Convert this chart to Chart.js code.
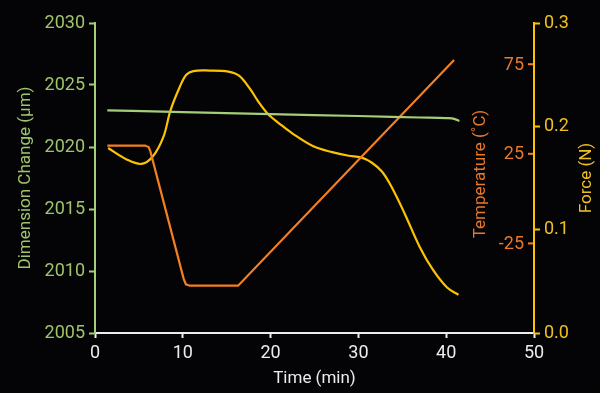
<!DOCTYPE html>
<html>
<head>
<meta charset="utf-8">
<script src="https://cdn.jsdelivr.net/npm/chart.js@4"></script>
<style>
  html, body { margin: 0; padding: 0; background: #040407; }
  canvas { display: block; }
</style>
</head>
<body>
<canvas id="chart" width="600" height="393"></canvas>
<script>
// --- data ---
const dimTime   = [1.4, 10, 20, 30, 37, 40, 41, 41.5];
const dimValues = [2022.95, 2022.82, 2022.65, 2022.5, 2022.38, 2022.33, 2022.25, 2022.1];

const tempTime   = [1.4, 5.7, 6.1, 6.3, 10.1, 10.35, 10.8, 16.3, 40.9];
const tempValues = [29.6, 29.6, 28.8, 26.5, -44.8, -47.8, -48.6, -48.6, 77.4];

const forceTime   = [1.5, 3.6, 5.3, 6.6, 7.8, 8.6, 9.7, 10.4, 11.2, 13, 15.2, 16.4, 17.6, 18.6, 19.7, 21.1, 22.5, 24.8, 27, 28.9, 30.3, 31.5, 32.7, 33.8, 35.3, 37, 38.5, 40.1, 41.4];
const forceValues = [0.179, 0.168, 0.1636, 0.171, 0.19, 0.2155, 0.239, 0.25, 0.2535, 0.254, 0.253, 0.249, 0.237, 0.224, 0.212, 0.202, 0.193, 0.181, 0.175, 0.1715, 0.170, 0.165, 0.156, 0.141, 0.115, 0.083, 0.061, 0.044, 0.037];

const tempTicks = [-25, 25, 75];

// --- colours / font ---
const GREEN = '#a6cd78';
const GREEN_TXT = '#9fc46c';
const ORANGE = '#f47f20';
const ORANGE_TXT = '#e8782a';
const YELLOW = '#fcc400';
const YELLOW_TXT = '#f0c020';
const WHITE = '#ececec';
const FONT = 'Roboto, "Liberation Sans", sans-serif';

function pts(xs, ys) { return xs.map((x, i) => ({ x: x, y: ys[i] })); }

// temperature axis sits inside the plot, along the force axis line
const tempAxisPlugin = {
    id: 'tempAxis',
    afterDraw(chart) {
        const s = chart.scales.yT;
        const area = chart.chartArea;
        const ctx = chart.ctx;
        ctx.save();
        ctx.strokeStyle = ORANGE;
        ctx.lineWidth = 2;
        ctx.fillStyle = ORANGE_TXT;
        ctx.font = '18px ' + FONT;
        ctx.textAlign = 'right';
        ctx.textBaseline = 'middle';
        tempTicks.forEach(v => {
            const y = s.getPixelForValue(v);
            ctx.beginPath();
            ctx.moveTo(area.right - 6, y);
            ctx.lineTo(area.right - 1, y);
            ctx.stroke();
            ctx.fillText(String(v), area.right - 10, y + 1);
        });
        const midY = (area.top + area.bottom) / 2;
        ctx.textAlign = 'center';
        ctx.font = '17px ' + FONT;
        ctx.save();
        ctx.translate(481, midY - 4);
        ctx.rotate(-Math.PI / 2);
        ctx.fillText('Temperature (˚C)', 0, 0);
        ctx.restore();
        // force title, read bottom to top
        ctx.fillStyle = YELLOW_TXT;
        ctx.translate(587, midY);
        ctx.rotate(-Math.PI / 2);
        ctx.fillText('Force (N)', 0, 0);
        ctx.restore();
    }
};

new Chart(document.getElementById('chart'), {
    type: 'line',
    data: {
        datasets: [
            {
                label: 'Dimension Change',
                data: pts(dimTime, dimValues),
                yAxisID: 'y',
                borderColor: GREEN,
                borderWidth: 2.2,
                pointRadius: 0,
                cubicInterpolationMode: 'monotone'
            },
            {
                label: 'Temperature',
                data: pts(tempTime, tempValues),
                yAxisID: 'yT',
                borderColor: ORANGE,
                borderWidth: 2.2,
                pointRadius: 0,
                tension: 0
            },
            {
                label: 'Force',
                data: pts(forceTime, forceValues),
                yAxisID: 'yF',
                borderColor: YELLOW,
                borderWidth: 2.2,
                pointRadius: 0,
                tension: 0.35
            }
        ]
    },
    options: {
        responsive: false,
        animation: false,
        layout: { padding: { top: 23, left: 0, right: 0, bottom: 0 } },
        plugins: { legend: { display: false }, tooltip: { enabled: false } },
        scales: {
            x: {
                type: 'linear',
                position: 'bottom',
                min: 0, max: 50,
                afterFit: s => { s.height = 60; },
                border: { color: WHITE, width: 2 },
                grid: { drawOnChartArea: false, color: WHITE, tickLength: 5, tickWidth: 2 },
                ticks: { stepSize: 10, color: WHITE, padding: 5, font: { family: FONT, size: 18 } },
                title: { display: true, text: 'Time (min)', color: WHITE, font: { family: FONT, size: 17 }, padding: { top: 0, bottom: 4 } }
            },
            y: {
                position: 'left',
                min: 2005, max: 2030,
                afterFit: s => { s.width = 95; },
                border: { color: GREEN, width: 2 },
                grid: { drawOnChartArea: false, color: GREEN, tickLength: 6, tickWidth: 2 },
                ticks: { stepSize: 5, color: GREEN_TXT, padding: 4, font: { family: FONT, size: 18 }, callback: v => String(v) },
                title: { display: true, text: 'Dimension Change (µm)', color: GREEN_TXT, font: { family: FONT, size: 17 }, padding: { top: 16, bottom: 0 } }
            },
            yT: {
                display: false,
                min: -75, max: 98
            },
            yF: {
                position: 'right',
                min: 0, max: 0.3,
                afterFit: s => { s.width = 66; },
                border: { color: YELLOW, width: 2 },
                grid: { drawOnChartArea: false, color: YELLOW, tickLength: 6, tickWidth: 2 },
                ticks: { stepSize: 0.1, color: YELLOW_TXT, padding: 4, font: { family: FONT, size: 18 }, callback: v => v.toFixed(1) }
            }
        }
    },
    plugins: [tempAxisPlugin]
});
</script>
</body>
</html>
